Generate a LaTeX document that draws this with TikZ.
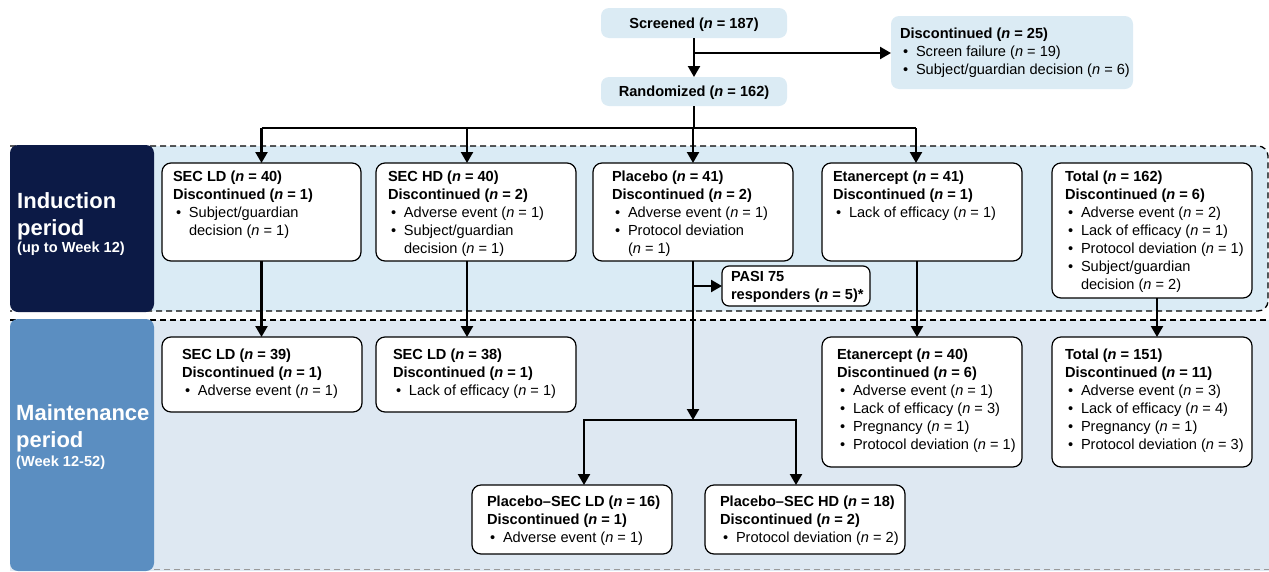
\documentclass[tikz,border=0pt]{standalone}
\usepackage{fontspec}
\setmainfont{Liberation Sans}
\usetikzlibrary{arrows.meta,calc}

\definecolor{navy}{HTML}{0C1A46}
\definecolor{midblue}{HTML}{5B8EC1}
\definecolor{indband}{HTML}{DAEBF5}
\definecolor{mntband}{HTML}{DEE8F2}
\definecolor{topfill}{HTML}{DBEBF4}
\definecolor{dashgrey}{HTML}{9A9A9A}

\newcommand{\fs}{\fontsize{14.6}{18}\selectfont}
\newcommand{\nn}{\textit{n}}
% width, height, left pad, top pad, lines
\newcommand{\bxt}[5]{\hbox to #1{\hspace*{#3}\parbox[c][#2][t]{\dimexpr#1-#3\relax}{\fs\vspace*{#4}#5}\hss}}
\newcommand{\hd}[1]{\hbox{\strut\bfseries #1}}
\newcommand{\bl}[1]{\hbox{\strut\hbox to 16pt{\hspace{3pt}•\hfil}#1}}
\newcommand{\cl}[1]{\hbox{\strut\hspace{16pt}#1}}

\tikzset{
  wbox/.style={draw=black, line width=1.2pt, fill=white, rounded corners=9pt, inner sep=0pt, outer sep=0pt, anchor=north west},
  tbox/.style={fill=topfill, rounded corners=8pt, inner sep=0pt, outer sep=0pt, anchor=north west},
  cbox/.style={tbox, minimum width=186pt, text height=10.5pt, text depth=0pt, font=\fs\bfseries},
  conn/.style={line width=2.3pt, draw=black},
  arr/.style={conn, -{Triangle[length=11pt,width=12pt]}},
  banddash/.style={dash pattern=on 6pt off 4pt, line width=1.3pt},
  biglbl/.style={anchor=base west, text=white, inner sep=0pt, font=\fontsize{22}{26}\selectfont\bfseries},
  smllbl/.style={anchor=base west, text=white, inner sep=0pt, font=\fs\bfseries}
}

\begin{document}
\begin{tikzpicture}[x=1pt,y=-1pt]
\useasboundingbox (0,0) rectangle (1269,571);

% ---- bands ----
\fill[indband, rounded corners=10pt] (10,146) rectangle (1268,311);
\draw[banddash, rounded corners=10pt] (10,146) -- (1268,146) -- (1268,311) -- (10,311);
\fill[navy, rounded corners=8pt] (10,145) rectangle (154,312);

\fill[mntband] (10,320) rectangle (1269,571);
\draw[banddash] (10,320) -- (1269,320);
\draw[banddash, dashgrey] (154,569.5) -- (1269,569.5);
\fill[midblue, rounded corners=8pt] (10,319) rectangle (154,571);

% ---- period labels ----
\node[biglbl] (ind1) at (17,208) {Induction};
\node[biglbl] (ind2) at (17,235) {period};
\node[smllbl] (ind3) at (17,252) {(up to Week 12)};
\node[biglbl] (mnt1) at (16,420) {Maintenance};
\node[biglbl] (mnt2) at (16,447) {period};
\node[smllbl] (mnt3) at (16,466) {(Week 12-52)};

% ---- top boxes ----
\node[cbox, minimum height=30pt] (scr) at (601,8) {Screened (\nn{} = 187)};
\node[cbox, minimum height=29pt] (rand) at (601,77) {Randomized (\nn{} = 162)};
\node[tbox] (disc0) at (891,16) {\bxt{242pt}{73pt}{9pt}{9.4pt}{%
  \hd{Discontinued (\nn{} = 25)}%
  \bl{Screen failure (\nn{} = 19)}%
  \bl{Subject/guardian decision (\nn{} = 6)}}};

% ---- induction boxes ----
\node[wbox] (i1) at (162,163) {\bxt{199pt}{98pt}{11pt}{6pt}{%
  \hd{SEC LD (\nn{} = 40)}%
  \hd{Discontinued (\nn{} = 1)}%
  \bl{Subject/guardian}%
  \cl{decision (\nn{} = 1)}}};
\node[wbox] (i2) at (376,163) {\bxt{200pt}{98pt}{12pt}{6pt}{%
  \hd{SEC HD (\nn{} = 40)}%
  \hd{Discontinued (\nn{} = 2)}%
  \bl{Adverse event (\nn{} = 1)}%
  \bl{Subject/guardian}%
  \cl{decision (\nn{} = 1)}}};
\node[wbox] (i3) at (593,163) {\bxt{200pt}{98pt}{19pt}{6pt}{%
  \hd{Placebo (\nn{} = 41)}%
  \hd{Discontinued (\nn{} = 2)}%
  \bl{Adverse event (\nn{} = 1)}%
  \bl{Protocol deviation}%
  \cl{(\nn{} = 1)}}};
\node[wbox] (i4) at (822,163) {\bxt{200pt}{98pt}{11pt}{6pt}{%
  \hd{Etanercept (\nn{} = 41)}%
  \hd{Discontinued (\nn{} = 1)}%
  \bl{Lack of efficacy (\nn{} = 1)}}};
\node[wbox] (i5) at (1052,163) {\bxt{200pt}{135pt}{13pt}{6pt}{%
  \hd{Total (\nn{} = 162)}%
  \hd{Discontinued (\nn{} = 6)}%
  \bl{Adverse event (\nn{} = 2)}%
  \bl{Lack of efficacy (\nn{} = 1)}%
  \bl{Protocol deviation (\nn{} = 1)}%
  \bl{Subject/guardian}%
  \cl{decision (\nn{} = 2)}}};
\node[wbox, rounded corners=7pt] (pasi) at (722,266) {\bxt{148pt}{40pt}{9pt}{2.4pt}{%
  \hd{PASI 75}%
  \hd{responders (\nn{} = 5)*}}};

% ---- maintenance boxes ----
\node[wbox] (m1) at (162,337) {\bxt{200pt}{75pt}{20pt}{9.4pt}{%
  \hd{SEC LD (\nn{} = 39)}%
  \hd{Discontinued (\nn{} = 1)}%
  \bl{Adverse event (\nn{} = 1)}}};
\node[wbox] (m2) at (376,337) {\bxt{200pt}{75pt}{17pt}{9.4pt}{%
  \hd{SEC LD (\nn{} = 38)}%
  \hd{Discontinued (\nn{} = 1)}%
  \bl{Lack of efficacy (\nn{} = 1)}}};
\node[wbox] (m4) at (822,337) {\bxt{200pt}{130pt}{15pt}{9.4pt}{%
  \hd{Etanercept (\nn{} = 40)}%
  \hd{Discontinued (\nn{} = 6)}%
  \bl{Adverse event (\nn{} = 1)}%
  \bl{Lack of efficacy (\nn{} = 3)}%
  \bl{Pregnancy (\nn{} = 1)}%
  \bl{Protocol deviation (\nn{} = 1)}}};
\node[wbox] (m5) at (1052,337) {\bxt{200pt}{130pt}{13pt}{9.4pt}{%
  \hd{Total (\nn{} = 151)}%
  \hd{Discontinued (\nn{} = 11)}%
  \bl{Adverse event (\nn{} = 3)}%
  \bl{Lack of efficacy (\nn{} = 4)}%
  \bl{Pregnancy (\nn{} = 1)}%
  \bl{Protocol deviation (\nn{} = 3)}}};
\node[wbox] (p1) at (472,485) {\bxt{200pt}{69pt}{15pt}{8.4pt}{%
  \hd{Placebo–SEC LD (\nn{} = 16)}%
  \hd{Discontinued (\nn{} = 1)}%
  \bl{Adverse event (\nn{} = 1)}}};
\node[wbox] (p2) at (705,485) {\bxt{200pt}{69pt}{15pt}{8.4pt}{%
  \hd{Placebo–SEC HD (\nn{} = 18)}%
  \hd{Discontinued (\nn{} = 2)}%
  \bl{Protocol deviation (\nn{} = 2)}}};

% ---- connectors ----
\coordinate (scrSplit) at (694,53);
\coordinate (busL) at (261.5,128);
\coordinate (busR) at (916,128);
\coordinate (plSplit) at (693,420);

\draw[arr] (scr.south) -- (rand.north);
\draw[arr] (scrSplit) -- (scrSplit -| disc0.west);

\draw[conn] (rand.south) -- (rand.south |- busL);
\draw[conn] (busL) -- (busR);
\draw[arr] (busL) -- (i1.north);
\draw[arr] ([xshift=-9pt]i2.north |- busL) -- ([xshift=-9pt]i2.north);
\draw[arr] (i3.north |- busL) -- (i3.north);
\draw[arr] (busR) -- ([xshift=-6pt]i4.north);

\draw[arr] (i1.south) -- (i1.south |- m1.north);
\draw[arr] ([xshift=-9pt]i2.south) -- ([xshift=-9pt]m2.north);
\draw[arr] ([xshift=-5pt]i4.south) -- ([xshift=-5pt]m4.north);
\draw[arr] ([xshift=5pt]i5.south) -- ([xshift=5pt]m5.north);

\draw[arr] (i3.south) -- (plSplit);
\draw[arr] (i3.south |- pasi.west) -- (pasi.west);
\draw[arr] (plSplit) -| ([xshift=12pt]p1.north);
\draw[arr] (plSplit) -| ([xshift=-9pt]p2.north);
\end{tikzpicture}
\end{document}
